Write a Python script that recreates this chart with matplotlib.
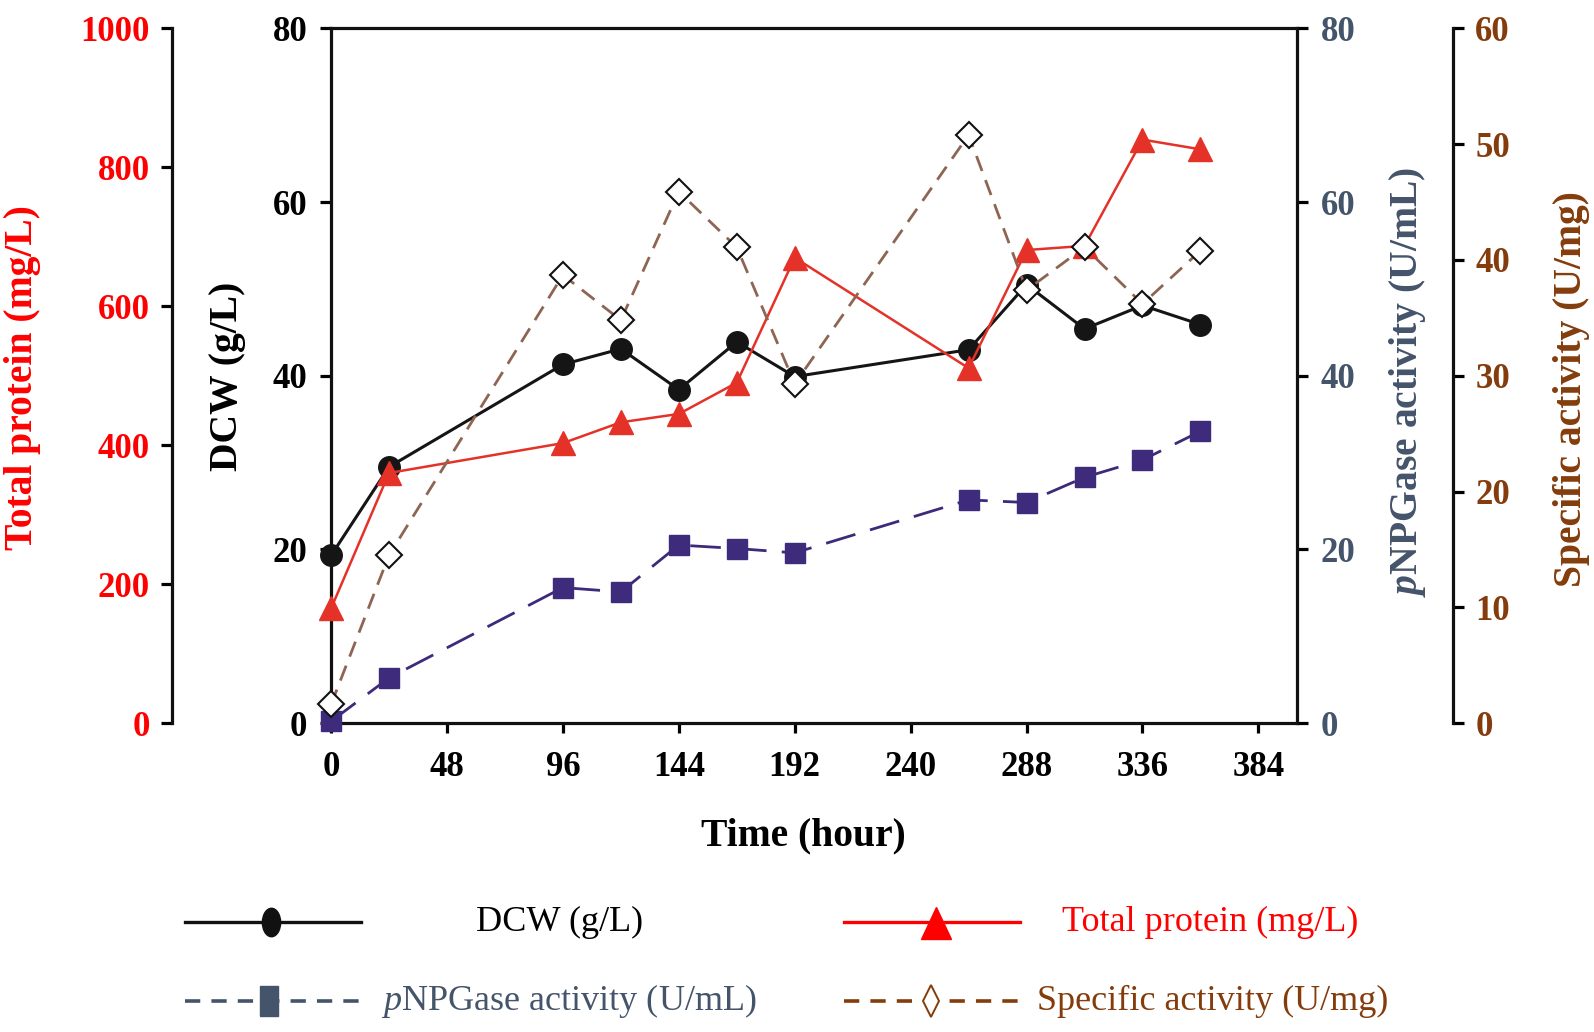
import matplotlib
matplotlib.use("Agg")
import matplotlib.pyplot as plt
from matplotlib.markers import MarkerStyle
from matplotlib.transforms import Affine2D

plt.rcParams['font.family'] = ['Liberation Serif', 'DejaVu Serif']
plt.rcParams['mathtext.fontset'] = 'custom'
plt.rcParams['mathtext.rm'] = 'Liberation Serif'
plt.rcParams['mathtext.it'] = 'Liberation Serif:italic'
plt.rcParams['mathtext.bf'] = 'Liberation Serif:bold'
plt.rcParams['mathtext.bfit'] = 'Liberation Serif:italic:bold'
plt.rcParams['lines.scale_dashes'] = False

# data
hours = [0, 24, 96, 120, 144, 168, 192, 264, 288, 312, 336, 360]
dcw = [19.3, 29.5, 41.3, 43.1, 38.4, 43.9, 39.9, 43.0, 50.5, 45.4, 48.1, 45.9]
total_protein = [165, 360, 403, 433, 445, 490, 670, 511, 681, 687, 840, 826]
pnpgase = [0.2, 5.2, 15.6, 15.1, 20.5, 20.1, 19.6, 25.7, 25.4, 28.3, 30.3, 33.6]
specific = [1.6, 14.5, 38.7, 34.8, 45.9, 41.1, 29.3, 50.8, 37.4, 41.1, 36.2, 40.8]

RED = "#ff0000"
SLATE = "#44546a"
BROWN = "#843c0c"
SPINE = "#111111"
W = 1594
H = 1032

fig = plt.figure(figsize=(W / 100, H / 100), dpi=100)
ax = fig.add_axes([0.2077, 0.2994, 0.606, 0.673])


def put_label(axis, x_px, y_px):
    # centre an axis label on a pixel position of the figure
    axis.set_label_coords(x_px / W, 1 - y_px / H, transform=fig.transFigure)
    axis.label.set_verticalalignment('center')
    axis.label.set_horizontalalignment('center')


def bold_ticks(a):
    for lbl in a.get_xticklabels() + a.get_yticklabels():
        lbl.set_fontweight('bold')


# DCW on the main axis
ax.plot(hours, dcw, color="#151515", lw=2.2, marker="o", ms=15.5,
        mfc="#151515", mec="#151515", clip_on=False, zorder=3)
ax.set_xlim(0, 400)
ax.set_ylim(0, 80)
ax.set_xticks(range(0, 385, 48))
ax.set_yticks(range(0, 81, 20))
ax.spines['right'].set_visible(False)
for s in ('left', 'top', 'bottom'):
    ax.spines[s].set_linewidth(2.3)
    ax.spines[s].set_color(SPINE)
ax.tick_params(axis='y', direction='out', length=8, width=2.3, pad=9, labelsize=25)
ax.tick_params(axis='x', direction='out', length=7, width=2.3, pad=13, labelsize=25)
bold_ticks(ax)
ax.set_xlabel("Time (hour)", fontsize=28.5, fontweight='bold')
put_label(ax.xaxis, 803, 836)
ax.set_ylabel("DCW (g/L)", fontsize=28.5, fontweight='bold')
put_label(ax.yaxis, 227, 376)

# total protein, extra left axis
ax_p = ax.twinx()
ax_p.plot(hours, total_protein, color="#e53228", lw=1.8, marker="^", ms=17,
          mfc="#e53228", mec="#e53228", clip_on=False, zorder=3)
ax_p.set_ylim(0, 1000)
ax_p.set_yticks(range(0, 1001, 200))
for s in ('right', 'top', 'bottom'):
    ax_p.spines[s].set_visible(False)
ax_p.spines['left'].set_visible(True)
ax_p.spines['left'].set_position(('axes', -0.1646))
ax_p.spines['left'].set_linewidth(2.3)
ax_p.spines['left'].set_color(SPINE)
ax_p.yaxis.set_ticks_position('left')
ax_p.yaxis.set_label_position('left')
ax_p.tick_params(axis='y', direction='out', length=8, width=2.3, pad=8,
                 labelsize=25, labelcolor=RED)
bold_ticks(ax_p)
ax_p.set_ylabel("Total protein (mg/L)", fontsize=28.5, fontweight='bold', color=RED)
put_label(ax_p.yaxis, 23, 378)

# pNPGase activity, right axis
ax_n = ax.twinx()
ax_n.plot(hours, pnpgase, color="#3d2a7a", lw=2.0, dashes=(22, 11), marker="s",
          ms=14, mfc="#3f2b7b", mec="#3f2b7b", clip_on=False, zorder=3)
ax_n.set_ylim(0, 80)
ax_n.set_yticks(range(0, 81, 20))
for s in ('left', 'top', 'bottom'):
    ax_n.spines[s].set_visible(False)
ax_n.spines['right'].set_linewidth(2.3)
ax_n.spines['right'].set_color(SPINE)
ax_n.tick_params(axis='y', direction='out', length=8, width=2.3, pad=9,
                 labelsize=25, labelcolor=SLATE)
bold_ticks(ax_n)
ax_n.set_ylabel(r"$\mathbfit{p}$NPGase activity (U/mL)", fontsize=28.5,
                fontweight='bold', color=SLATE)
put_label(ax_n.yaxis, 1408, 382)

# specific activity, extra right axis
ax_s = ax.twinx()
ax_s.plot(hours, specific, color="#8e6452", lw=2.0, dashes=(11.5, 7), marker="D",
          ms=13, mfc="white", mec=SPINE, mew=1.5, clip_on=False, zorder=4)
ax_s.set_ylim(0, 60)
ax_s.set_yticks(range(0, 61, 10))
for s in ('left', 'top', 'bottom'):
    ax_s.spines[s].set_visible(False)
ax_s.spines['right'].set_position(('axes', 1.1615))
ax_s.spines['right'].set_linewidth(2.3)
ax_s.spines['right'].set_color(SPINE)
ax_s.tick_params(axis='y', direction='out', length=8, width=2.3, pad=8,
                 labelsize=25, labelcolor=BROWN)
bold_ticks(ax_s)
ax_s.set_ylabel("Specific activity (U/mg)", fontsize=28.5, fontweight='bold', color=BROWN)
put_label(ax_s.yaxis, 1572, 389)

# legend drawn under the plot, in pixel coordinates of the figure
lg = fig.add_axes([0, 0, 1, 1])
lg.set_xlim(0, W)
lg.set_ylim(H, 0)
lg.axis('off')
lg.patch.set_visible(False)


def squeeze(m, sx):
    return MarkerStyle(m, transform=Affine2D().scale(sx, 1.0))


row1, row2 = 922, 1001
lg.plot([185, 361], [row1, row1], color=SPINE, lw=2.4)
lg.plot([271], [row1], ls='none', marker=squeeze('o', 0.64), ms=20.5, color=SPINE)
lg.text(476, row1, "DCW (g/L)", fontsize=26, va='center', ha='left', color="black")

lg.plot([844, 1020], [row1, row1], color=RED, lw=2.4)
lg.plot([936], [row1 + 1], ls='none', marker=squeeze('^', 0.95), ms=23, color=RED)
lg.text(1062, row1, "Total protein (mg/L)", fontsize=26, va='center', ha='left', color=RED)

lg.plot([185, 361], [row2, row2], color=SLATE, lw=2.6, dashes=(11, 8))
lg.plot([269], [row2], ls='none', marker=squeeze('s', 0.62), ms=21, color=SLATE)
lg.text(381, row2, r"$\mathit{p}$NPGase activity (U/mL)", fontsize=26, va='center',
        ha='left', color=SLATE)

lg.plot([844, 1020], [row2, row2], color=BROWN, lw=2.6, dashes=(11, 8))
lg.plot([931], [row2], ls='none', marker=squeeze('D', 0.5), ms=16.8, mfc="white",
        mec=BROWN, mew=1.4)
lg.text(1037, row2, "Specific activity (U/mg)", fontsize=26, va='center', ha='left',
        color=BROWN)

fig.savefig("out.png", dpi=100)
